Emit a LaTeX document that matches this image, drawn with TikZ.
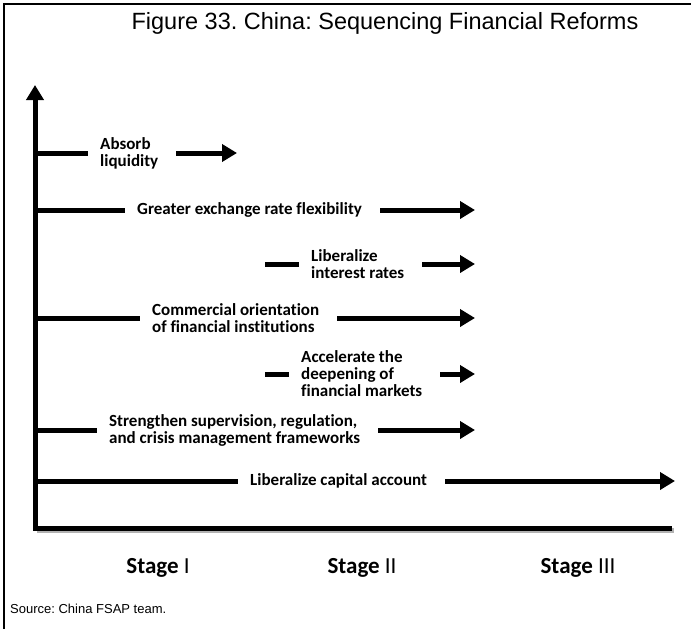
\documentclass[tikz,border=0pt]{standalone}
\usepackage{fontspec}
\setmainfont{Carlito}[Ligatures=NoCommon]
\newfontfamily\arialfont{Liberation Sans}
\usetikzlibrary{arrows.meta}
\frenchspacing

\begin{document}
\begin{tikzpicture}[x=1pt, y=-1pt,
    bar/.style={line width=5pt, shorten >=12pt},
    arr/.style={-{Triangle[length=15pt,width=17pt]}, line width=5pt, shorten <=18pt},
    lbl/.style={anchor=west, inner sep=0pt, align=left,
                font=\fontsize{17}{17}\selectfont\bfseries},
    stg/.style={anchor=base, font=\fontsize{23}{26}\selectfont}
]
\useasboundingbox (0,0) rectangle (691,629);

%% ── Frame and title ────────────────────────────────────────────────────
\draw[line width=2pt] (4,629) -- (4,4) -- (691,4);
\node[font=\arialfont\fontsize{23.5}{28}\selectfont] (title) at (385,23)
      {Figure 33. China: Sequencing Financial Reforms};

%% ── Axes ───────────────────────────────────────────────────────────────
\coordinate (org)  at (35,528);
\coordinate (ytop) at (35,85);
\coordinate (xend) at (672,528);
\draw[gray!60, line width=5pt, line join=miter] ([shift={(2,2)}]org) -- ([shift={(2,2)}]xend);
\draw[line width=5pt, line join=miter, -{Triangle[length=15pt,width=17pt]}]
      (xend) -- (org) -- (ytop);

%% ── Row starts and arrow ends ─────────────────────────────────────────
\coordinate (r1) at (35,153);  \coordinate (e1) at (237,153);
\coordinate (r2) at (35,210);  \coordinate (e2) at (475,210);
\coordinate (r3) at (265,264); \coordinate (e3) at (475,264);
\coordinate (r4) at (35,318);  \coordinate (e4) at (475,318);
\coordinate (r5) at (265,374); \coordinate (e5) at (475,374);
\coordinate (r6) at (35,430);  \coordinate (e6) at (475,430);
\coordinate (r7) at (35,481);  \coordinate (e7) at (675,481);

%% ── Reform labels ─────────────────────────────────────────────────────
\node[lbl] (t1) at (100,153) {Absorb\\liquidity};
\node[lbl] (t2) at (137,210) {Greater exchange rate flexibility};
\node[lbl] (t3) at (311,264) {Liberalize\\interest rates};
\node[lbl] (t4) at (152,318) {Commercial orientation\\of financial institutions};
\node[lbl] (t5) at (301,374) {Accelerate the\\deepening of\\financial markets};
\node[lbl] (t6) at (109,430) {Strengthen supervision, regulation,\\and crisis management frameworks};
\node[lbl] (t7) at (250,481) {Liberalize capital account};

%% ── Bars and arrows ───────────────────────────────────────────────────
\draw[bar] (r1) -- (t1); \draw[arr] (t1) -- (e1);
\draw[bar] (r2) -- (t2); \draw[arr] (t2) -- (e2);
\draw[bar] (r3) -- (t3); \draw[arr] (t3) -- (e3);
\draw[bar] (r4) -- (t4); \draw[arr] (t4) -- (e4);
\draw[bar] (r5) -- (t5); \draw[arr] (t5) -- (e5);
\draw[bar] (r6) -- (t6); \draw[arr] (t6) -- (e6);
\draw[bar] (r7) -- (t7); \draw[arr] (t7) -- (e7);

%% ── Stages and source ─────────────────────────────────────────────────
\node[stg] (s1) at (158,573) {\textbf{Stage} I};
\node[stg] (s2) at (362,573) {\textbf{Stage} II};
\node[stg] (s3) at (578,573) {\textbf{Stage} III};
\node[anchor=base west, inner sep=0pt, font=\arialfont\fontsize{13}{15}\selectfont]
      (src) at (10,613) {Source: China FSAP team.};
\end{tikzpicture}
\end{document}
